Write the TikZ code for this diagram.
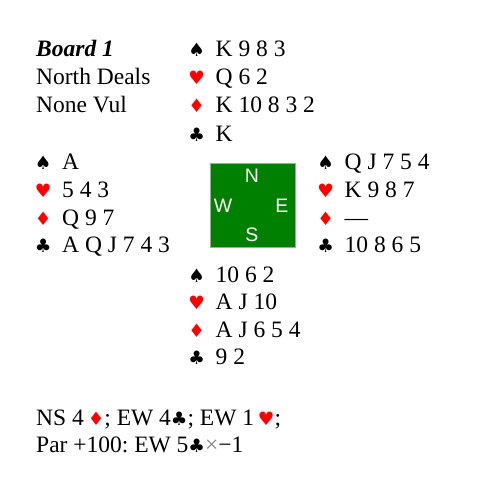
\documentclass[tikz,border=0pt]{standalone}
\usepackage{fontspec}
\setmainfont{Liberation Serif}
\newfontfamily\suitfont{DejaVu Sans}
\newfontfamily\dirfont{Liberation Sans}
\definecolor{suitred}{RGB}{255,0,0}
\definecolor{boardgreen}{RGB}{0,128,0}
\frenchspacing
\newcommand{\Sp}{{\suitfont\fontsize{18.5}{18.5}\selectfont ♠}}
\newcommand{\Hs}{{\suitfont\fontsize{18.5}{18.5}\selectfont\color{suitred}♥}}
\newcommand{\Ds}{{\suitfont\fontsize{18.5}{18.5}\selectfont\color{suitred}♦}}
\newcommand{\Cs}{{\suitfont\fontsize{18.5}{18.5}\selectfont ♣}}
\newcommand{\Row}[2]{\makebox[0pt][c]{#1}\hspace{19pt}#2}
\begin{document}
\begin{tikzpicture}[x=1pt,y=1pt,
  txt/.style={anchor=base west, inner sep=0pt, font=\fontsize{23.5}{28}\selectfont},
  hand/.style={anchor=base west, inner sep=0pt, font=\fontsize{23.5}{28}\selectfont},
  dir/.style={anchor=base, inner sep=0pt, text=white, font=\dirfont\fontsize{19.5}{19.5}\selectfont}]
\useasboundingbox (0,0) rectangle (504,-497);
% info
\node[txt] (title) at (36,-56.7) {\textbf{\textit{Board 1}}};
\node[txt] (deal) at (36,-85) {North Deals};
\node[txt] (vul) at (36,-113) {None Vul};
% North
\node[hand] (ns) at (196.5,-56.7) {\Row{\Sp}{K 9 8 3}};
\node[hand] (nh) at (196.5,-85) {\Row{\Hs}{Q 6 2}};
\node[hand] (nd) at (196.5,-113) {\Row{\Ds}{K 10 8 3 2}};
\node[hand] (nc) at (196.5,-141.5) {\Row{\Cs}{K}};
% West
\node[hand] (ws) at (43,-170) {\Row{\Sp}{A}};
\node[hand] (wh) at (43,-197.7) {\Row{\Hs}{5 4 3}};
\node[hand] (wd) at (43,-225.5) {\Row{\Ds}{Q 9 7}};
\node[hand] (wc) at (43,-253) {\Row{\Cs}{A Q J 7 4 3}};
% East
\node[hand] (es) at (325.5,-170) {\Row{\Sp}{Q J 7 5 4}};
\node[hand] (eh) at (325.5,-197.7) {\Row{\Hs}{K 9 8 7}};
\node[hand] (ed) at (325.5,-225.5) {\Row{\Ds}{—}};
\node[hand] (ec) at (325.5,-253) {\Row{\Cs}{10 8 6 5}};
% South
\node[hand] (ss) at (196.5,-283) {\Row{\Sp}{10 6 2}};
\node[hand] (sh) at (196.5,-310) {\Row{\Hs}{A J 10}};
\node[hand] (sd) at (196.5,-337.5) {\Row{\Ds}{A J 6 5 4}};
\node[hand] (sc) at (196.5,-365) {\Row{\Cs}{9 2}};
% compass
\node[draw=gray!70, line width=0.8pt, fill=boardgreen, minimum width=85pt, minimum height=84pt, inner sep=0pt] (box) at (252.5,-205) {};
\node[dir] (N) at (252,-183) {N};
\node[dir] (W) at (223,-212.5) {W};
\node[dir] (E) at (282,-212.5) {E};
\node[dir] (S) at (252,-241.5) {S};
% contracts
\node[txt] (c1) at (36,-425) {NS 4\,\Ds; EW 4\Cs; EW 1\,\Hs;};
\node[txt] (c2) at (36,-453) {Par +100: EW 5\Cs\textcolor{gray}{×}−1};
\end{tikzpicture}
\end{document}
